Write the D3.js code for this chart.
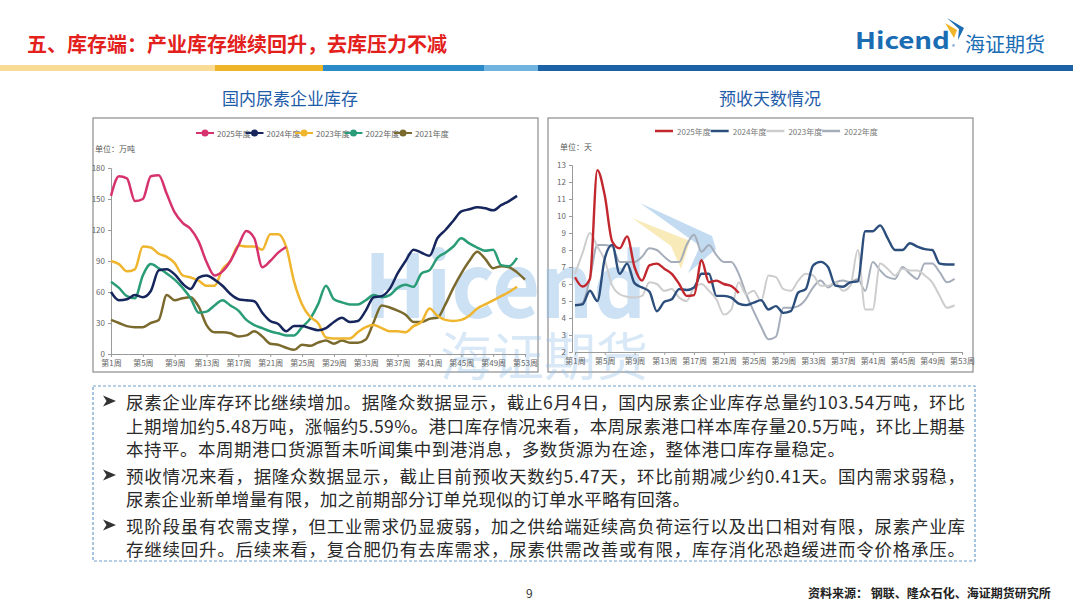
<!DOCTYPE html>
<html>
<head>
<meta charset="utf-8">
<script src="https://cdn.jsdelivr.net/npm/d3@7"></script>
<style>
  body { margin: 0; background: #fff; }
  svg { display: block; }
  text { font-family: "Noto Sans CJK SC", "Noto Sans", sans-serif; }
</style>
</head>
<body>
<script>
// ---- data ----
var invYears = ["2025年度", "2024年度", "2023年度", "2022年度", "2021年度"];
var invColors = ["#d6336e", "#16265c", "#f0b52e", "#2a9d78", "#7b6a2e"];
var inv2025 = [153,172,170,148,150,172,173,155,137,127,121,109,89,76,80,90,105,119,112,84,90,98.1,103.5];
var inv2024 = [60,52,53,57,55,61,81,82,77,68,63,74,76,72,66,58,53,52,51,40,32,29,22,27,27,25,23,25,31,35,31,32,42,55,56,63,78,90,101,98,95,112,120,129,138,140,142,141,139,144,148,153];
var inv2023 = [90,87,80,82,104,103,97,94,88,76,74,71,66,66,82,90,105,104,104,101,116,116,104,70,48,36,30,16,15,15,15,21,26,28,25,22,22,21,27,31,44,37,33,32,33,37,44,48,52,56,60,65];
var inv2022 = [70,64,56,54,76,87,83,78,72,64,54,40,41,47,52,47,42,33,28,25,22,20,18,18,26,34,48,66,53,50,48,48,52,57,55,57,64,67,65,78,81,93,98,104,112,107,103,100,101,86,85,93];
var inv2021 = [33,30,27,26,26,30,33,57,52,54,55,46,28,21,21,20,17,18,22,17,10,9,6,4,9,8,11,13,10,13,11,11,14,31,47,45,42,38,31,31,34,35,48,64,78,90,99,92,83,85,84,79,72];
var invTicks = [0, 30, 60, 90, 120, 150, 180];

var dayYears = ["2025年度", "2024年度", "2023年度", "2022年度"];
var dayColors = ["#c1272d", "#2c4e7c", "#cdcdcd", "#a5adba"];
var days2025 = [6.4,5.85,6.3,12.7,11.2,8.5,8.1,8.8,7.0,6.2,7.1,7.2,6.9,6.6,6.0,5.3,5.35,7.4,6.1,6.2,6.0,5.88,5.47];
var days2024 = [4.75,4.8,5.6,5.0,7.5,8.3,6.6,7.2,6.05,5.8,5.55,4.4,4.95,5.1,5.7,5.65,5.8,6.6,6.6,5.3,5.3,5.2,4.85,4.76,4.9,5.05,4.5,4.7,4.3,4.4,5.5,5.7,7.1,7.3,7.0,5.9,5.84,6.1,6.15,9.1,9.1,9.45,8.7,8.0,8.0,8.4,8.2,8.05,8.0,7.2,7.15,7.15];
var days2023 = [6.6,7.8,9.0,8.2,7.4,5.9,5.4,5.25,5.2,5.3,6.1,6.0,5.6,5.7,5.2,5.0,5.8,6.0,5.6,5.1,4.2,4.5,6.1,5.4,5.6,5.0,6.5,6.4,5.7,5.6,6.2,6.6,6.5,5.9,5.9,6.1,5.6,5.9,8.0,4.5,4.5,7.2,6.9,6.5,6.9,6.8,6.8,6.5,6.1,5.3,4.6,4.75];
var days2022 = [4.75,4.9,6.3,8.3,8.3,8.2,7.3,7.3,7.3,7.6,8.1,8.0,7.6,7.3,7.3,8.3,8.9,7.9,8.3,7.7,7.3,7.3,6.6,5.4,4.4,3.5,2.75,2.9,4.6,4.6,4.7,5.1,5.8,6.2,5.8,6.1,6.2,6.1,6.3,5.6,7.3,6.8,6.4,6.3,7.0,6.6,6.3,7.2,7.2,6.7,6.1,6.3];
var dayTicks = d3.range(2, 14);

var weekTicks = d3.range(1, 54, 4);

var pageTitle = "五、库存端：产业库存继续回升，去库压力不减";
var bullets = [
  ["尿素企业库存环比继续增加。据隆众数据显示，截止6月4日，国内尿素企业库存总量约103.54万吨，环比",
   "上期增加约5.48万吨，涨幅约5.59%。港口库存情况来看，本周尿素港口样本库存量20.5万吨，环比上期基",
   "本持平。本周期港口货源暂未听闻集中到港消息，多数货源为在途，整体港口库存量稳定。"],
  ["预收情况来看，据隆众数据显示，截止目前预收天数约5.47天，环比前期减少约0.41天。国内需求弱稳，",
   "尿素企业新单增量有限，加之前期部分订单兑现似的订单水平略有回落。"],
  ["现阶段虽有农需支撑，但工业需求仍显疲弱，加之供给端延续高负荷运行以及出口相对有限，尿素产业库",
   "存继续回升。后续来看，复合肥仍有去库需求，尿素供需改善或有限，库存消化恐趋缓进而令价格承压。"]
];
// widths of each text line as measured on the slide
var bulletWidths = [[839, 839, 719], [839, 564], [839, 839]];

// set up the SVG
var svg = d3.select("body").append("svg")
  .attr("width", 1080)
  .attr("height", 608);

// header title and colour strip
svg.append("text")
  .attr("x", 27).attr("y", 43)
  .attr("dominant-baseline", "central")
  .attr("font-size", 20).attr("font-weight", "bold")
  .attr("fill", "#e3211c")
  .text(pageTitle);

var strip = [[0, 215, "#f8dc96"], [215, 323, "#f0b429"], [323, 484, "#2b8bc9"], [484, 538, "#72b4e0"], [538, 1073, "#1b62a6"]];
svg.selectAll(".strip").data(strip).enter().append("rect")
  .attr("x", function(d) { return d[0]; })
  .attr("width", function(d) { return d[1] - d[0]; })
  .attr("y", 65).attr("height", 6)
  .attr("fill", function(d) { return d[2]; });

// logo
svg.append("text").attr("x", 855).attr("y", 49)
  .attr("font-family", "Liberation Sans, Arial, sans-serif")
  .attr("font-size", 23).attr("font-weight", "bold")
  .attr("textLength", 95).attr("lengthAdjust", "spacingAndGlyphs")
  .attr("fill", "#1a6cb3").text("Hicend");
svg.append("text").attr("x", 952).attr("y", 49).attr("font-size", 6).attr("fill", "#1a6cb3").text("®");
svg.append("text").attr("x", 965).attr("y", 43).attr("dominant-baseline", "central")
  .attr("font-size", 20).attr("fill", "#1a6cb3").text("海证期货");
svg.append("path").attr("d", "M947,18 L964,28 L958,40 L959,29 Z").attr("fill", "#1a6cb3");
svg.append("path").attr("d", "M945,23 L957,30 L954,38 Z").attr("fill", "#f0b429");

// chart titles
svg.append("text").attr("x", 290).attr("y", 97).attr("text-anchor", "middle")
  .attr("dominant-baseline", "central").attr("font-size", 17).attr("fill", "#1f5ca9")
  .text("国内尿素企业库存");
svg.append("text").attr("x", 770).attr("y", 97).attr("text-anchor", "middle")
  .attr("dominant-baseline", "central").attr("font-size", 17).attr("fill", "#1f5ca9")
  .text("预收天数情况");

// panel frames
svg.append("rect").attr("x", 93).attr("y", 118).attr("width", 445).attr("height", 254)
  .attr("fill", "none").attr("stroke", "#8c8c8c").attr("stroke-width", 1.2);
svg.append("rect").attr("x", 548).attr("y", 118).attr("width", 425).attr("height", 254)
  .attr("fill", "none").attr("stroke", "#8c8c8c").attr("stroke-width", 1.2);

// scales
var xL = d3.scaleLinear().domain([1, 53]).range([111, 525]);
var yL = d3.scaleLinear().domain([0, 180]).range([354, 168]);
var xR = d3.scaleLinear().domain([1, 53]).range([575, 962]);
var yR = d3.scaleLinear().domain([2, 13]).range([352, 165]);

function styleAxis(g) {
  g.select(".domain").attr("stroke", "#9a9a9a");
  g.selectAll(".tick line").attr("stroke", "#9a9a9a");
  g.selectAll(".tick text").attr("fill", "#666").attr("font-size", 8)
    .attr("font-family", "Noto Sans CJK SC, sans-serif");
}

// watermark (behind the chart lines)
var wm = svg.append("g").attr("pointer-events", "none");
wm.append("text").attr("x", 364).attr("y", 318)
  .attr("font-family", "Liberation Sans, Arial, sans-serif")
  .attr("font-size", 88).attr("font-weight", "bold")
  .attr("textLength", 282).attr("lengthAdjust", "spacingAndGlyphs")
  .attr("fill", "#8fbde4").attr("fill-opacity", 0.45).text("Hicend");
wm.append("text").attr("x", 440).attr("y", 353).attr("dominant-baseline", "central")
  .attr("font-size", 52).attr("fill", "#8fbde4").attr("fill-opacity", 0.35).text("海证期货");
wm.append("path").attr("d", "M640,203 L712,236 L716,249 L688,273 L700,246 Z")
  .attr("fill", "#8fbde4").attr("fill-opacity", 0.55);
wm.append("path").attr("d", "M632,218 L690,241 L681,269 L671,246 Z")
  .attr("fill", "#f5dc8c").attr("fill-opacity", 0.6);

// left axes
svg.append("g").attr("transform", "translate(0,354)")
  .call(d3.axisBottom(xL).tickValues(weekTicks).tickSize(3).tickFormat(function(d) { return "第" + d + "周"; }))
  .call(styleAxis);
svg.append("g").attr("transform", "translate(111,0)")
  .call(d3.axisLeft(yL).tickValues(invTicks).tickSize(3))
  .call(styleAxis);
svg.append("text").attr("x", 95).attr("y", 152).attr("font-size", 8).attr("fill", "#555").text("单位：万吨");

// right axes
svg.append("g").attr("transform", "translate(0,352)")
  .call(d3.axisBottom(xR).tickValues(weekTicks).tickSize(3).tickFormat(function(d) { return "第" + d + "周"; }))
  .call(styleAxis);
svg.append("g").attr("transform", "translate(572,0)")
  .call(d3.axisLeft(yR).tickValues(dayTicks).tickSize(3))
  .call(styleAxis);
svg.append("text").attr("x", 560).attr("y", 150).attr("font-size", 8).attr("fill", "#555").text("单位：天");

// lines
function lineFor(x, y) {
  return d3.line()
    .x(function(d, i) { return x(i + 1); })
    .y(function(d) { return y(d); })
    .curve(d3.curveMonotoneX);
}

var invSeries = [inv2025, inv2024, inv2023, inv2022, inv2021];
var leftLine = lineFor(xL, yL);
svg.append("g").selectAll("path")
  .data(invSeries.map(function(s, i) { return { s: s, c: invColors[i] }; }).reverse())
  .enter().append("path")
  .attr("d", function(d) { return leftLine(d.s); })
  .attr("fill", "none")
  .attr("stroke", function(d) { return d.c; })
  .attr("stroke-width", 2.5)
  .attr("stroke-linejoin", "round");

var daySeries = [days2025, days2024, days2023, days2022];
var dayWidths = [2.4, 2.4, 2, 2];
var rightLine = lineFor(xR, yR);
svg.append("g").selectAll("path")
  .data(daySeries.map(function(s, i) { return { s: s, c: dayColors[i], w: dayWidths[i] }; }).reverse())
  .enter().append("path")
  .attr("d", function(d) { return rightLine(d.s); })
  .attr("fill", "none")
  .attr("stroke", function(d) { return d.c; })
  .attr("stroke-width", function(d) { return d.w; })
  .attr("stroke-linejoin", "round");

// left legend (line + dot)
var legL = svg.append("g").selectAll("g")
  .data(invYears).enter().append("g")
  .attr("transform", function(d, i) { return "translate(" + (205 + i * 49.5) + ",133)"; });
legL.append("line").attr("x1", -9).attr("x2", 9)
  .attr("stroke", function(d, i) { return invColors[i]; }).attr("stroke-width", 2);
legL.append("circle").attr("r", 3.5).attr("fill", function(d, i) { return invColors[i]; });
legL.append("text").attr("x", 12).attr("dominant-baseline", "central")
  .attr("font-size", 8).attr("fill", "#666").text(function(d) { return d; });

// right legend (line only)
var legR = svg.append("g").selectAll("g")
  .data(dayYears).enter().append("g")
  .attr("transform", function(d, i) { return "translate(" + (655 + i * 55.7) + ",131)"; });
legR.append("line").attr("x1", 0).attr("x2", 18)
  .attr("stroke", function(d, i) { return dayColors[i]; }).attr("stroke-width", 2.5);
legR.append("text").attr("x", 22).attr("dominant-baseline", "central")
  .attr("font-size", 8).attr("fill", "#777").text(function(d) { return d; });

// text box
svg.append("rect").attr("x", 93).attr("y", 386).attr("width", 882).attr("height", 175)
  .attr("fill", "none").attr("stroke", "#6e9fcc").attr("stroke-width", 1.2)
  .attr("stroke-dasharray", "3,2");

var lineY = [[401, 425, 448], [475, 498], [525, 548]];
bullets.forEach(function(par, p) {
  var y0 = lineY[p][0];
  svg.append("path")
    .attr("d", "M103," + (y0 - 5.5) + " L116," + y0 + " L103," + (y0 + 5.5) + " L106.5," + y0 + " Z")
    .attr("fill", "#333");
  par.forEach(function(t, k) {
    svg.append("text").attr("x", 126).attr("y", lineY[p][k])
      .attr("dominant-baseline", "central")
      .attr("font-size", 17.5).attr("fill", "#2a2a2a")
      .attr("textLength", bulletWidths[p][k]).attr("lengthAdjust", "spacing")
      .text(t);
  });
});

// footer
svg.append("text").attr("x", 526).attr("y", 592).attr("dominant-baseline", "central")
  .attr("font-size", 12).attr("fill", "#333").text("9");
svg.append("text").attr("x", 808).attr("y", 592).attr("dominant-baseline", "central")
  .attr("font-size", 12).attr("font-weight", "bold").attr("fill", "#222")
  .text("资料来源：  钢联、隆众石化、海证期货研究所");
</script>
</body>
</html>
